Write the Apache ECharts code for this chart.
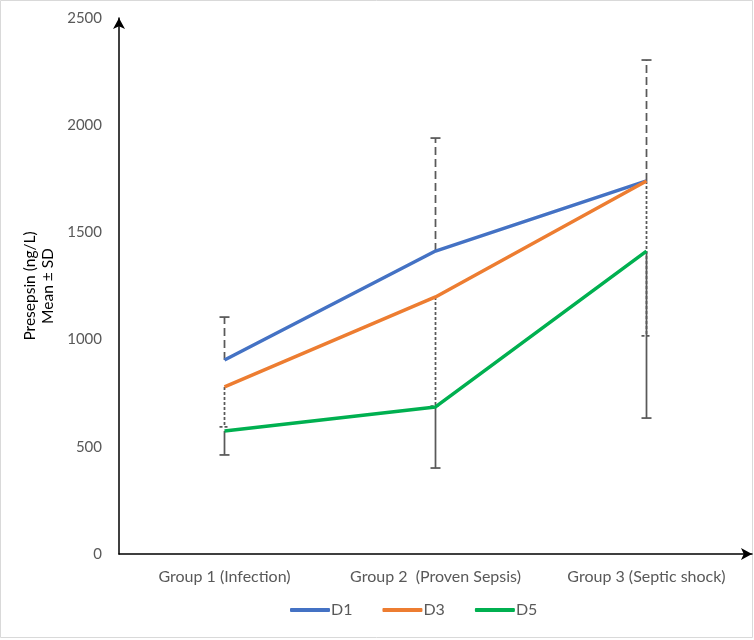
<!DOCTYPE html>
<html>
<head>
<meta charset="utf-8">
<script src="https://cdn.jsdelivr.net/npm/echarts@6/dist/echarts.min.js"></script>
<style>html,body{margin:0;padding:0;background:#fff}#c{width:754px;height:640px}</style>
</head>
<body>
<div id="c"></div>
<script>
const categories = ['Group 1 (Infection)', 'Group 2  (Proven Sepsis)', 'Group 3 (Septic shock)'];
const d1 = [905, 1413, 1740];
const d3 = [779, 1199, 1740];
const d5 = [574, 686, 1413];
// error bar ends (D1 plus only; D3 and D5 minus only)
const d1Upper = [1105, 1940, 2304];
const d3Lower = [593, 690, 1017];
const d5Lower = [462, 401, 634];
const yTicks = [0, 500, 1000, 1500, 2000, 2500];

const FONT = 'Lato, "Liberation Sans", sans-serif';
const ERR = '#595959';

function errSeries(name, means, ends, dash, capDash) {
  const data = means.map((m, i) => [i, m, ends[i]]);
  return {
    type: 'custom',
    name: name + ' err',
    z: 1,
    silent: true,
    data: data,
    renderItem: function (params, api) {
      const i = api.value(0);
      const a = api.coord([i, api.value(1)]);
      const b = api.coord([i, api.value(2)]);
      return {
        type: 'group',
        children: [
          { type: 'line', shape: { x1: a[0], y1: a[1], x2: b[0], y2: b[1] }, style: { stroke: ERR, lineWidth: 1.75, lineDash: dash } },
          { type: 'line', shape: { x1: b[0] - 5, y1: b[1], x2: b[0] + 5, y2: b[1] }, style: { stroke: ERR, lineWidth: 1.75, lineDash: capDash } }
        ]
      };
    },
    encode: { x: 0, y: [1, 2] }
  };
}

function lineSeries(name, data, color) {
  return {
    type: 'line', name: name, data: data, z: 5,
    symbol: 'none',
    lineStyle: { color: color, width: 3.5 },
    itemStyle: { color: color }
  };
}

const chart = echarts.init(document.getElementById('c'));
chart.setOption({
  animation: false,
  backgroundColor: '#fff',
  grid: { left: 119, right: 2, top: 18, bottom: 86, containLabel: false },
  xAxis: {
    type: 'category',
    data: categories,
    boundaryGap: true,
    axisLine: { lineStyle: { color: '#000', width: 1.5 }, symbol: ['none', 'arrow'], symbolSize: [9, 11] },
    axisTick: { show: false },
    axisLabel: { color: '#595959', fontSize: 16, fontFamily: FONT, margin: 15, interval: 0, hideOverlap: false },
    splitLine: { show: false }
  },
  yAxis: {
    type: 'value',
    min: yTicks[0], max: yTicks[yTicks.length - 1], interval: 500,
    axisLine: { show: true, lineStyle: { color: '#000', width: 1.5 }, symbol: ['none', 'arrow'], symbolSize: [9, 11] },
    axisTick: { show: false },
    axisLabel: { color: '#595959', fontSize: 15, fontFamily: FONT, margin: 17, formatter: function (v) { return String(v); } },
    splitLine: { show: false }
  },
  legend: {
    left: 285, top: 597,
    itemWidth: 40, itemHeight: 4, itemGap: 30,
    icon: 'roundRect',
    textStyle: { color: '#595959', fontSize: 16, fontFamily: FONT, padding: [0, 0, 0, -4] },
    data: ['D1', 'D3', 'D5']
  },
  graphic: [
    { type: 'rect', shape: { x: 0.5, y: 0.5, width: 752, height: 637 }, style: { fill: 'none', stroke: '#d9d9d9', lineWidth: 1 }, silent: true },
    { type: 'text', x: 39, y: 286, rotation: Math.PI / 2,
      style: { text: 'Presepsin (ng/L)\nMean ± SD', fill: '#000', font: '15.5px ' + FONT, align: 'center', verticalAlign: 'middle', lineHeight: 18 } }
  ],
  series: [
    errSeries('D1', d1, d1Upper, [8, 4], null),
    errSeries('D3', d3, d3Lower, [3, 2], [3, 2]),
    errSeries('D5', d5, d5Lower, null, null),
    lineSeries('D1', d1, '#4472C4'),
    lineSeries('D3', d3, '#ED7D31'),
    lineSeries('D5', d5, '#00B050')
  ]
});
</script>
</body>
</html>
